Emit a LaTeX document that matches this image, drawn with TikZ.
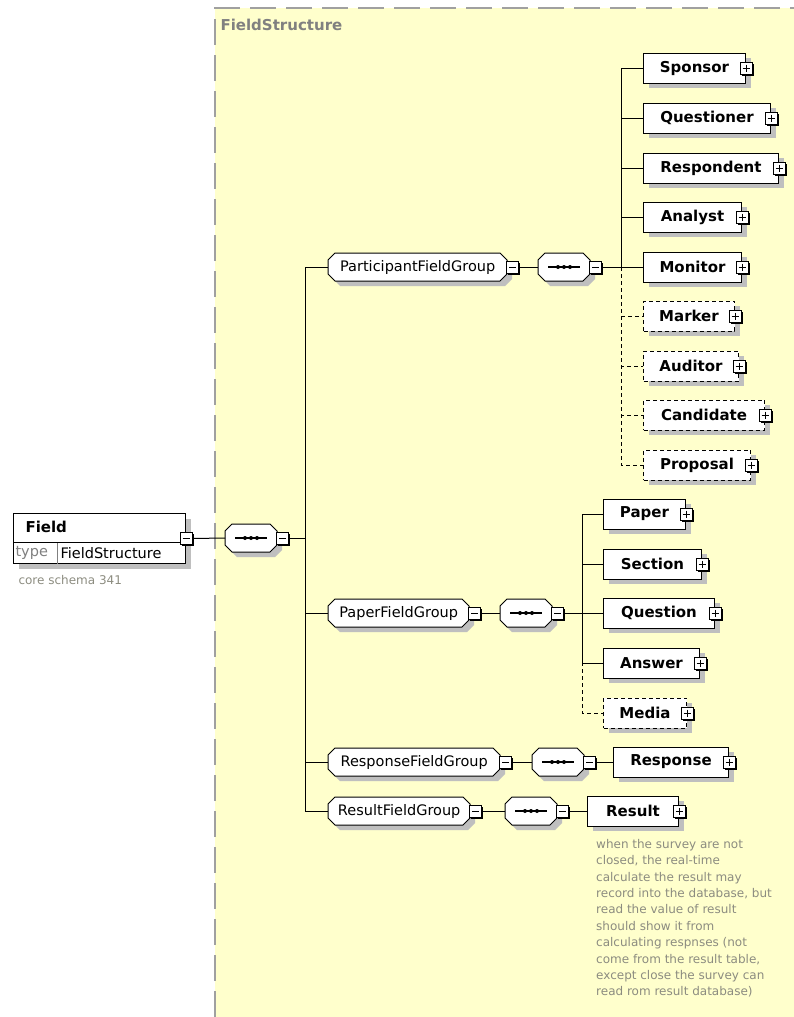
\documentclass[tikz,border=0pt]{standalone}
\usepackage{fontspec}
\setmainfont{DejaVu Sans}
\usepackage{tikz}
\usetikzlibrary{shadows,positioning}

\definecolor{bgyellow}{RGB}{255,255,204}
\definecolor{notegray}{RGB}{140,140,128}
\definecolor{bordergray}{RGB}{160,160,160}

% cut-corner outline with its shadow: left x, centre y, width
\newcommand{\cutbox}[3]{%
  \fill[gray!50, shift={(#1+5,#2+5)}] (7,-14) -- (#3-7,-14) -- (#3,-7) -- (#3,7) -- (#3-7,14) -- (7,14) -- (0,7) -- (0,-7) -- cycle;
  \filldraw[fill=white, line width=1pt, shift={(#1,#2)}] (7,-14) -- (#3-7,-14) -- (#3,-7) -- (#3,7) -- (#3-7,14) -- (7,14) -- (0,7) -- (0,-7) -- cycle;}
% sequence compositor: left x, centre y
\newcommand{\seqbox}[2]{%
  \cutbox{#1}{#2}{52}
  \draw[line width=1.2pt, shift={(#1,#2)}] (10,0) -- (42,0);
  \fill[shift={(#1,#2)}] (20,0) circle (2pt) (26,0) circle (2pt) (32,0) circle (2pt);}

\tikzset{
  shade/.style={drop shadow={shadow xshift=5pt, shadow yshift=-5pt, fill=gray!50, opacity=1}},
  elem/.style={draw, fill=white, line width=1pt, minimum width=#1, minimum height=30pt,
    inner sep=0pt, anchor=west, shade, font=\fontsize{15}{18}\selectfont\bfseries},
  optelem/.style={elem=#1, dash pattern=on 4pt off 3pt},
  grp/.style={minimum width=#1, minimum height=28pt, inner sep=0pt, anchor=west,
    font=\fontsize{14.5}{17}\selectfont},
  seq/.style={minimum width=52pt, minimum height=28pt, inner sep=0pt, anchor=west},
  mbox/.style={draw, fill=white, line width=1pt, minimum size=12pt, inner sep=0pt, anchor=west,
    drop shadow={shadow xshift=1.5pt, shadow yshift=-1.5pt, fill=black, opacity=1},
    path picture={\draw[line width=1pt] ([xshift=2.5pt]path picture bounding box.west) -- ([xshift=-2.5pt]path picture bounding box.east);}},
  pbox/.style={draw, fill=white, line width=1pt, minimum size=12pt, inner sep=0pt,
    drop shadow={shadow xshift=1.5pt, shadow yshift=-1.5pt, fill=black, opacity=1},
    path picture={\draw[line width=1pt] ([xshift=2.5pt]path picture bounding box.west) -- ([xshift=-2.5pt]path picture bounding box.east);
      \draw[line width=1pt] ([yshift=-2.5pt]path picture bounding box.north) -- ([yshift=2.5pt]path picture bounding box.south);}},
  link/.style={line width=1pt},
  optlink/.style={line width=1pt, dash pattern=on 4pt off 3pt},
  notetext/.style={text=notegray, font=\fontsize{12}{16.4}\selectfont}
}

\begin{document}
\begin{tikzpicture}[x=1pt, y=-1pt]
    \useasboundingbox (0,0) rectangle (794,1017);

    % FieldStructure type area
    \fill[bgyellow] (215,8) rectangle (794,1017);
    \draw[bordergray, line width=2pt, dash pattern=on 26pt off 10pt] (215,1017) -- (215,8) -- (794,8);
    \node[anchor=west, text=gray, font=\fontsize{15}{18}\selectfont\bfseries] (fslabel) at (217,25) {FieldStructure};

    % Field element
    \node[draw, fill=white, line width=1pt, minimum width=172pt, minimum height=50pt, anchor=north west, shade] (field) at (13,513) {};
    \draw[line width=1pt] ([yshift=-29pt]field.north west) -- ([yshift=-29pt]field.north east);
    \draw[gray, line width=1pt] ([xshift=44pt]field.south west) -- ([xshift=44pt,yshift=21pt]field.south west);
    \node[anchor=west, font=\fontsize{15}{18}\selectfont\bfseries] (fieldname) at (22,527) {Field};
    \node[anchor=west, text=gray, font=\fontsize{14.5}{17}\selectfont] (fieldkey) at (12,553) {type};
    \node[anchor=west, font=\fontsize{14.5}{17}\selectfont] (fieldtype) at (57,553) {FieldStructure};
    \node[mbox, anchor=center] (fieldm) at (field.east) {};
    \node[anchor=west, notetext] (fieldnote) at (15,580) {core schema 341};

    % top sequence
    \seqbox{225}{538}
    \node[seq] (fseq) at (225,538) {};
    \node[mbox] (fseqm) at ([xshift=-1pt]fseq.east) {};
    \coordinate (spine) at (305,538);

    % groups
    \cutbox{328}{267}{179}
    \node[grp=179pt] (pgrp) at (328,267) {ParticipantFieldGroup};
    \node[mbox] (pgrpm) at ([xshift=-1pt]pgrp.east) {};
    \cutbox{328}{613}{141}
    \node[grp=141pt] (papgrp) at (328,613) {PaperFieldGroup};
    \node[mbox] (papgrpm) at ([xshift=-1pt]papgrp.east) {};
    \cutbox{328}{762}{172}
    \node[grp=172pt] (respgrp) at (328,762) {ResponseFieldGroup};
    \node[mbox] (respgrpm) at ([xshift=-1pt]respgrp.east) {};
    \cutbox{328}{811}{142}
    \node[grp=142pt] (resgrp) at (328,811) {ResultFieldGroup};
    \node[mbox] (resgrpm) at ([xshift=-1pt]resgrp.east) {};

    % group sequences
    \seqbox{538}{267}
    \node[seq] (pseq) at (538,267) {};
    \node[mbox] (pseqm) at ([xshift=-1pt]pseq.east) {};
    \seqbox{500}{613}
    \node[seq] (papseq) at (500,613) {};
    \node[mbox] (papseqm) at ([xshift=-1pt]papseq.east) {};
    \seqbox{532}{762}
    \node[seq] (respseq) at (532,762) {};
    \node[mbox] (respseqm) at ([xshift=-1pt]respseq.east) {};
    \seqbox{505}{811}
    \node[seq] (resseq) at (505,811) {};
    \node[mbox] (resseqm) at ([xshift=-1pt]resseq.east) {};
    \coordinate (pspine) at (621,267);
    \coordinate (papspine) at (582,613);

    % participant elements
    \node[elem=102pt] (sponsor) at (643,68) {Sponsor};
    \node[pbox] (sponsorp) at (sponsor.east) {};
    \node[elem=127pt] (questioner) at (643,118) {Questioner};
    \node[pbox] (questionerp) at (questioner.east) {};
    \node[elem=135pt] (respondent) at (643,168) {Respondent};
    \node[pbox] (respondentp) at (respondent.east) {};
    \node[elem=98pt] (analyst) at (643,217) {Analyst};
    \node[pbox] (analystp) at (analyst.east) {};
    \node[elem=98pt] (monitor) at (643,267) {Monitor};
    \node[pbox] (monitorp) at (monitor.east) {};
    \node[optelem=91pt] (marker) at (643,316) {Marker};
    \node[pbox] (markerp) at (marker.east) {};
    \node[optelem=95pt] (auditor) at (643,366) {Auditor};
    \node[pbox] (auditorp) at (auditor.east) {};
    \node[optelem=121pt] (candidate) at (643,415) {Candidate};
    \node[pbox] (candidatep) at (candidate.east) {};
    \node[optelem=107pt] (proposal) at (643,465) {Proposal};
    \node[pbox] (proposalp) at (proposal.east) {};

    % paper elements
    \node[elem=82pt] (paper) at (603,514) {Paper};
    \node[pbox] (paperp) at (paper.east) {};
    \node[elem=98pt] (section) at (603,564) {Section};
    \node[pbox] (sectionp) at (section.east) {};
    \node[elem=111pt] (question) at (603,613) {Question};
    \node[pbox] (questionp) at (question.east) {};
    \node[elem=96pt] (answer) at (603,663) {Answer};
    \node[pbox] (answerp) at (answer.east) {};
    \node[optelem=83pt] (media) at (603,713) {Media};
    \node[pbox] (mediap) at (media.east) {};

    % response and result
    \node[elem=115pt] (response) at (613,762) {Response};
    \node[pbox] (responsep) at (response.east) {};
    \node[elem=91pt] (result) at (587,811) {Result};
    \node[pbox] (resultp) at (result.east) {};
    \node[anchor=north west, notetext, align=left, inner sep=0pt] (resultnote) at (596,839)
      {when the survey are not\\closed, the real-time\\calculate the result may\\record into the database, but\\read the value of result\\should show it from\\calculating respnses (not\\come from the result table,\\except close the survey can\\read rom result database)};

    % connectors
    \draw[link] (fieldm.east) -- (fseq.west);
    \draw[link] (fseqm.east) -- (spine);
    \draw[link] (spine) |- (pgrp.west);
    \draw[link] (spine) |- (papgrp.west);
    \draw[link] (spine) |- (respgrp.west);
    \draw[link] (spine) |- (resgrp.west);
    \draw[link] (pgrpm.east) -- (pseq.west);
    \draw[link] (papgrpm.east) -- (papseq.west);
    \draw[link] (respgrpm.east) -- (respseq.west);
    \draw[link] (resgrpm.east) -- (resseq.west);

    \draw[link] (pseqm.east) -- (pspine);
    \draw[link] (pspine) |- (sponsor.west);
    \draw[link] (pspine) |- (questioner.west);
    \draw[link] (pspine) |- (respondent.west);
    \draw[link] (pspine) |- (analyst.west);
    \draw[link] (pspine) -- (monitor.west);
    \draw[optlink] (pspine) |- (marker.west);
    \draw[optlink] (pspine) |- (auditor.west);
    \draw[optlink] (pspine) |- (candidate.west);
    \draw[optlink] (pspine) |- (proposal.west);

    \draw[link] (papseqm.east) -- (papspine);
    \draw[link] (papspine) |- (paper.west);
    \draw[link] (papspine) |- (section.west);
    \draw[link] (papspine) -- (question.west);
    \draw[link] (papspine) |- (answer.west);
    \draw[optlink] (papspine) |- (media.west);

    \draw[link] (respseqm.east) -- (response.west);
    \draw[link] (resseqm.east) -- (result.west);
\end{tikzpicture}
\end{document}
